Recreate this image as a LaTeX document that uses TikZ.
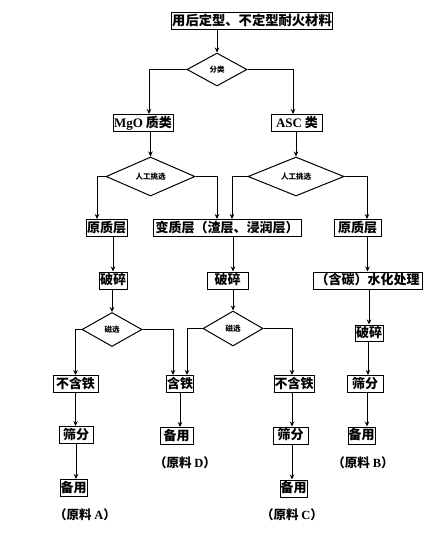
\documentclass[tikz,border=0pt]{standalone}
\usepackage{fontspec}
\setmainfont{Liberation Serif}
\newfontfamily\cjk{Noto Sans CJK SC}
\usetikzlibrary{shapes.geometric,arrows.meta}
\tikzset{
  box/.style={draw, line width=1pt, inner xsep=0.5pt, inner ysep=0pt, minimum height=17pt,
    font=\cjk\bfseries\fontsize{13}{14}\selectfont, text height=10.5pt, text depth=2pt},
  dia/.style={draw, diamond, line width=1pt, inner sep=0pt,
    font=\cjk\bfseries\fontsize{7.5}{8}\selectfont},
  arr/.style={line width=1pt, -{Stealth[length=5pt,width=4.5pt]}},
  lab/.style={inner sep=0pt, font=\cjk\bfseries\fontsize{12.5}{13}\selectfont}
}
\begin{document}
\begin{tikzpicture}[x=1pt,y=-1pt]
\useasboundingbox[fill=white] (0,0) rectangle (441,541);
% nodes
\node[box, minimum width=160pt, font=\cjk\bfseries\fontsize{13.3}{14}\selectfont] (top) at (252,21) {用后定型、不定型耐火材料};
\node[dia, minimum width=60pt, minimum height=33pt] (d1) at (217,69.5) {分类};
\node[box, minimum width=60pt] (mgo) at (143,123) {{\rmfamily MgO} 质类};
\node[box, minimum width=51pt] (asc) at (297,123) {{\rmfamily ASC} 类};
\node[dia, minimum width=89pt, minimum height=39pt] (d2) at (150.5,176.5) {人工挑选};
\node[dia, minimum width=96pt, minimum height=39pt] (d3) at (296,176.5) {人工挑选};
\node[box, minimum width=41pt] (yz1) at (106.5,228) {原质层};
\node[box, minimum width=148pt] (bz) at (227,228) {变质层（渣层、浸润层）};
\node[box, minimum width=47pt] (yz2) at (357.5,228) {原质层};
\node[box, minimum width=28pt] (ps1) at (113,280.5) {破碎};
\node[box, minimum width=41pt] (ps2) at (227.5,280.5) {破碎};
\node[box, minimum width=109pt] (sh) at (367.5,280.5) {（含碳）水化处理};
\node[dia, minimum width=60pt, minimum height=34pt] (d4) at (112,329.5) {磁选};
\node[dia, minimum width=60pt, minimum height=35pt] (d5) at (233,328.5) {磁选};
\node[box, minimum width=28pt, minimum height=16pt] (ps3) at (369,333) {破碎};
\node[box, minimum width=45pt] (bht1) at (75.5,384) {不含铁};
\node[box, minimum width=26pt] (ht) at (180,384) {含铁};
\node[box, minimum width=40pt] (bht2) at (294,384) {不含铁};
\node[box, minimum width=36pt] (sf3) at (365,384) {筛分};
\node[box, minimum width=34pt] (sf1) at (76,435) {筛分};
\node[box, minimum width=33pt] (by4) at (176.5,436) {备用};
\node[box, minimum width=35pt] (sf2) at (290.5,435.5) {筛分};
\node[box, minimum width=27pt] (by2) at (361.5,435.5) {备用};
\node[box, minimum width=27pt] (by1) at (73.5,488) {备用};
\node[box, minimum width=27pt] (by3) at (293.5,488.5) {备用};
\node[lab] (la) at (85,515) {（原料 {\rmfamily A}）};
\node[lab] (ld) at (185,463) {（原料 {\rmfamily D}）};
\node[lab] (lc) at (292,515) {（原料 {\rmfamily C}）};
\node[lab] (lb) at (363,463) {（原料 {\rmfamily B}）};
% connectors
\draw[arr] (top.south -| d1.north) -- (d1.north);
\draw[arr] (d1.west) -| ([xshift=6pt]mgo.north);
\draw[arr] (d1.east) -| ([xshift=-4pt]asc.north);
\draw[arr] (mgo.south -| d2.north) -- (d2.north);
\draw[arr] (asc.south -| d3.north) -- (d3.north);
\draw[arr] (d2.west) -| ([xshift=-9.5pt]yz1.north);
\draw[arr] (d2.east) -| ([xshift=-10pt]bz.north);
\draw[arr] (d3.west) -| ([xshift=5pt]bz.north);
\draw[arr] (d3.east) -| ([xshift=9.5pt]yz2.north);
\draw[arr] (yz1.south -| ps1.north) -- (ps1.north);
\draw[arr] (bz.south -| d5.north) -- (ps2.north -| d5.north);
\draw[arr] (yz2.south -| sh.north) -- (sh.north);
\draw[arr] (ps1.south -| d4.north) -- (d4.north);
\draw[arr] (ps2.south -| d5.north) -- (d5.north);
\draw[arr] (sh.south -| ps3.north) -- (ps3.north);
\draw[arr] ([xshift=-1pt]ps3.south) -- ([xshift=-1pt]ps3.south |- sf3.north);
\draw[arr] (d4.west) -| (bht1.north);
\draw[arr] (d4.east) -| ([xshift=-7pt]ht.north);
\draw[arr] (d5.west) -| ([xshift=7pt]ht.north);
\draw[arr] (d5.east) -| ([xshift=-2pt]bht2.north);
\draw[arr] (bht1.south) -- (bht1.south |- sf1.north);
\draw[arr] (sf1.south) -- (sf1.south |- by1.north);
\draw[arr] (ht.south) -- (ht.south |- by4.north);
\draw[arr] ([xshift=-2pt]bht2.south) -- ([xshift=-2pt]bht2.south |- sf2.north);
\draw[arr] ([xshift=1.5pt]sf2.south) -- ([xshift=1.5pt]sf2.south |- by3.north);
\draw[arr] ([xshift=2pt]sf3.south) -- ([xshift=2pt]sf3.south |- by2.north);
\end{tikzpicture}
\end{document}
